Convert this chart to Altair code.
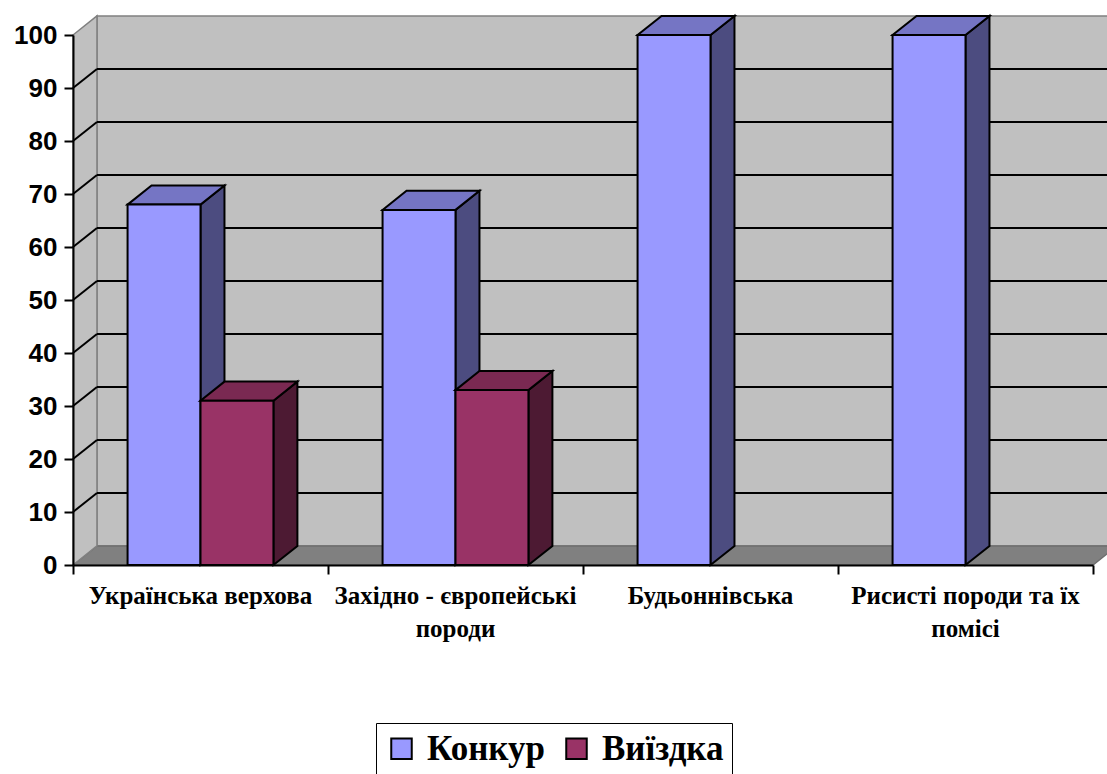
import altair as alt
import pandas as pd

# ---- data ----
categories = ["Українська верхова", "Західно - європейські\nпороди", "Будьоннівська", "Рисисті породи та їх\nпомісі"]
series = ["Конкур", "Виїздка"]
konkur = [68, 67, 100, 100]
viizdka = [31, 33, None, None]
ticks = [0, 10, 20, 30, 40, 50, 60, 70, 80, 90, 100]

front_colors = ["#9999FF", "#993366"]
top_colors = ["#7575C4", "#7A2952"]
side_colors = ["#4C4C80", "#4D1A33"]

# ---- 3-D look parameters (style) ----
BW = 0.286   # bar width in category units
DX = 0.094   # depth offset, x
DV = 3.6     # depth offset, value units
NCAT = len(categories)
YMAX = 100

# ---- build tables ----
fronts, tops, sides = [], [], []
for i, cat in enumerate(categories):
    for j, (name, vals) in enumerate(zip(series, [konkur, viizdka])):
        v = vals[i]
        if v is None:
            continue
        x0 = i + 0.5 - BW + j * BW
        x1 = x0 + BW
        bid = f"{i}-{j}"
        fronts.append({"x": x0, "x2": x1, "y": 0, "y2": v, "s": name, "order": j})
        for (xx, lo, hi) in [(x0, v, v), (x0 + DX, v, v + DV), (x1, v, v + DV), (x1 + DX, v + DV, v + DV)]:
            tops.append({"x": xx, "y": lo, "y2": hi, "id": bid, "c": top_colors[j], "order": j})
        for (xx, lo, hi) in [(x1, 0, v), (x1 + DX, DV, v + DV)]:
            sides.append({"x": xx, "y": lo, "y2": hi, "id": bid, "c": side_colors[j], "order": j})

fronts = pd.DataFrame(fronts)
tops = pd.DataFrame(tops)
sides = pd.DataFrame(sides)

wall = pd.DataFrame([{"x": DX, "x2": NCAT + DX, "y": DV, "y2": YMAX + DV}])
side_wall = pd.DataFrame([{"x": 0, "y": 0, "y2": YMAX}, {"x": DX, "y": DV, "y2": YMAX + DV}])
floor = pd.DataFrame([{"x": 0, "y": 0, "y2": 0}, {"x": DX, "y": 0, "y2": DV},
                      {"x": NCAT, "y": 0, "y2": DV}, {"x": NCAT + DX, "y": DV, "y2": DV}])
grid_t = [t for t in ticks if 0 < t < YMAX]
hgrid = pd.DataFrame({"x": [DX] * len(grid_t), "x2": [NCAT + DX] * len(grid_t), "y": [t + DV for t in grid_t]})
dgrid = pd.DataFrame({"x": [0] * len(grid_t), "x2": [DX] * len(grid_t), "y": grid_t, "y2": [t + DV for t in grid_t]})
labels = pd.DataFrame({"x": [i + 0.5 for i in range(NCAT)], "label": categories})

W, H = 1020, 530

xs = alt.Scale(domain=[0, NCAT], nice=False, zero=False)
ys = alt.Scale(domain=[0, YMAX], nice=False)
XAX = alt.Axis(values=list(range(NCAT + 1)), labels=False, title=None, grid=False, tickSize=9,
               tickWidth=2, tickColor="black", domainColor="black", domainWidth=2, zindex=1)
YAX = alt.Axis(values=ticks, title=None, grid=False, tickSize=9, tickWidth=2, tickColor="black",
               domainColor="black", domainWidth=2, labelFont="Liberation Sans", labelFontWeight="bold",
               labelFontSize=26, labelColor="black", labelPadding=7, zindex=1)


def X(f="x"):
    return alt.X(f"{f}:Q", scale=xs, axis=XAX)


def Y(f="y"):
    return alt.Y(f"{f}:Q", scale=ys, axis=YAX, stack=None)


wall_l = alt.Chart(wall).mark_rect(fill="#C0C0C0", stroke="#808080", strokeWidth=1.5).encode(
    x=X(), x2="x2:Q", y=Y(), y2="y2:Q")
side_l = alt.Chart(side_wall).mark_area(fill="#C0C0C0", stroke="#808080", strokeWidth=1.5, orient="vertical").encode(
    x=X(), y=Y(), y2="y2:Q")
floor_l = alt.Chart(floor).mark_area(fill="#808080", stroke="#6E6E6E", strokeWidth=1.5, orient="vertical").encode(
    x=X(), y=Y(), y2="y2:Q")
hgrid_l = alt.Chart(hgrid).mark_rule(color="black", strokeWidth=2).encode(x=X(), x2="x2:Q", y=Y())
dgrid_l = alt.Chart(dgrid).mark_rule(color="black", strokeWidth=2).encode(x=X(), x2="x2:Q", y=Y(), y2="y2:Q")

side_b = alt.Chart(sides).mark_area(stroke="black", strokeWidth=2, orient="vertical", strokeJoin="miter").encode(
    x=X(), y=Y(), y2="y2:Q", detail="id:N", fill=alt.Fill("c:N", scale=None, legend=None))
top_b = alt.Chart(tops).mark_area(stroke="black", strokeWidth=2, orient="vertical", strokeJoin="miter").encode(
    x=X(), y=Y(), y2="y2:Q", detail="id:N", fill=alt.Fill("c:N", scale=None, legend=None))
front_b = alt.Chart(fronts).mark_rect(stroke="black", strokeWidth=2).encode(
    x=X(), x2="x2:Q", y=Y(), y2="y2:Q",
    color=alt.Color("s:N", scale=alt.Scale(domain=series, range=front_colors),
                    legend=alt.Legend(title=None, orient="none", legendX=303, legendY=688,
                                      direction="horizontal", symbolType="square", symbolSize=420,
                                      symbolStrokeColor="black", symbolStrokeWidth=2,
                                      labelFont="Liberation Serif", labelFontSize=35,
                                      labelFontWeight="bold", labelColor="black",
                                      strokeColor="black", fillColor="white", padding=8,
                                      columnPadding=14, labelOffset=8)))

bars = []
for j in range(len(series)):
    bars += [side_b.transform_filter(f"datum.order == {j}"),
             top_b.transform_filter(f"datum.order == {j}"),
             front_b.transform_filter(f"datum.order == {j}")]

text_l = alt.Chart(labels).mark_text(
    font="Liberation Serif", fontWeight="bold", fontSize=25, color="black", baseline="top",
    align="center", lineHeight=33, lineBreak="\n").encode(x=X(), y=alt.value(H + 19), text="label:N")

chart = alt.layer(wall_l, floor_l, side_l, hgrid_l, dgrid_l, *bars, text_l).properties(
    width=W, height=H,
    autosize=alt.AutoSizeParams(type="none"),
    padding={"left": 73, "top": 35, "right": 14, "bottom": 209},
    background="white",
).configure_view(stroke=None)

chart.save("out.html", embed_options={"renderer": "svg", "actions": False})
